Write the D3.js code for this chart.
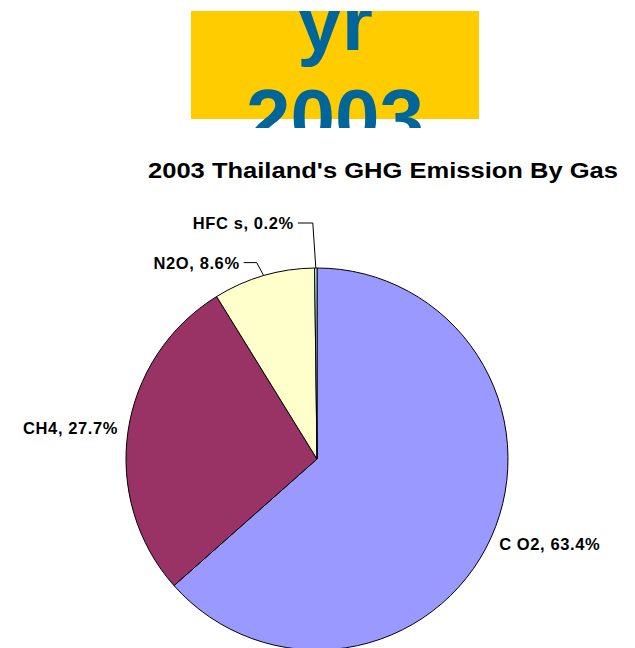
<!DOCTYPE html>
<html>
<head>
<meta charset="utf-8">
<script src="https://cdn.jsdelivr.net/npm/d3@7"></script>
<style>
  body { margin: 0; background: #fff; }
  svg { display: block; }
</style>
</head>
<body>
<svg id="chart" width="635" height="648"></svg>
<script>
// data
var gases = ["CO2", "CH4", "N2O", "HFCs"];
var shares = [63.4, 27.7, 8.6, 0.2];
var labels = ["C O2, 63.4%", "CH4, 27.7%", "N2O, 8.6%", "HFC s, 0.2%"];
var sliceColors = ["#9999ff", "#993366", "#ffffcc", "#ccffff"];

var svg = d3.select("#chart");
var w = 635, h = 648;

// yellow header box with the year (slide crop cuts the text top and bottom)
svg.append("clipPath").attr("id", "hdrclip")
    .append("rect").attr("x", 0).attr("y", 11).attr("width", w).attr("height", 117);

svg.append("rect")
    .attr("x", 191).attr("y", 11)
    .attr("width", 288).attr("height", 108)
    .attr("fill", "#ffcc00");

var hdr = svg.append("g").attr("clip-path", "url(#hdrclip)");
hdr.append("text")
    .attr("x", 335).attr("y", 50)
    .attr("text-anchor", "middle")
    .attr("font-family", "Liberation Sans, Arial, sans-serif")
    .attr("font-weight", "bold")
    .attr("font-size", 80)
    .attr("fill", "#006699")
    .text("yr");
hdr.append("text")
    .attr("x", 335).attr("y", 145)
    .attr("text-anchor", "middle")
    .attr("font-family", "Liberation Sans, Arial, sans-serif")
    .attr("font-weight", "bold")
    .attr("font-size", 80)
    .attr("fill", "#006699")
    .text("2003");

// chart title
svg.append("text")
    .attr("x", 148).attr("y", 178)
    .attr("font-family", "Liberation Sans, Arial, sans-serif")
    .attr("font-weight", "bold")
    .attr("font-size", 22.5)
    .attr("textLength", 470)
    .attr("lengthAdjust", "spacingAndGlyphs")
    .attr("fill", "#000")
    .text("2003 Thailand's GHG Emission By Gas");

// pie
var cx = 317, cy = 459, r = 191;
var pie = d3.pie().sort(null).value(function(d) { return d; });
var arcs = pie(shares);
var arc = d3.arc().innerRadius(0).outerRadius(r);

var g = svg.append("g").attr("transform", "translate(" + cx + "," + cy + ")");

g.selectAll("path.slice")
    .data(arcs)
    .enter().append("path")
    .attr("class", "slice")
    .attr("d", arc)
    .attr("fill", function(d, i) { return sliceColors[i]; })
    .attr("stroke", "#000")
    .attr("stroke-width", 1);

// label placement: offset from edge point at mid angle, optional leader elbow
var labelLayout = [
  { dx: 8, dy: 13, anchor: "start", leader: null },
  { dx: -10, dy: 3, anchor: "end", leader: null },
  { dx: 0, dy: 0, anchor: "end", leader: [[-7, -13], [-20, -13]] },
  { dx: 0, dy: 0, anchor: "end", leader: [[-3, -45], [-18, -45]] }
];

function edgePoint(d) {
  var a = (d.startAngle + d.endAngle) / 2;
  return [Math.sin(a) * r, -Math.cos(a) * r];
}

arcs.forEach(function(d, i) {
  var p = edgePoint(d);
  var lay = labelLayout[i];
  if (lay.leader) {
    var pts = [p].concat(lay.leader.map(function(o) { return [p[0] + o[0], p[1] + o[1]]; }));
    g.append("path")
        .attr("d", d3.line()(pts))
        .attr("fill", "none")
        .attr("stroke", "#000")
        .attr("stroke-width", 1);
  }
  var ty = lay.leader ? p[1] + lay.leader[1][1] + 6 : p[1] + lay.dy;
  var tx = lay.leader ? p[0] + lay.leader[1][0] - 4 : p[0] + lay.dx;
  g.append("text")
      .attr("x", tx).attr("y", ty)
      .attr("text-anchor", lay.anchor)
      .attr("font-family", "Liberation Sans, Arial, sans-serif")
      .attr("font-weight", "bold")
      .attr("font-size", 16.5)
      .attr("letter-spacing", 0.6)
      .attr("fill", "#000")
      .text(labels[i]);
});
</script>
</body>
</html>
